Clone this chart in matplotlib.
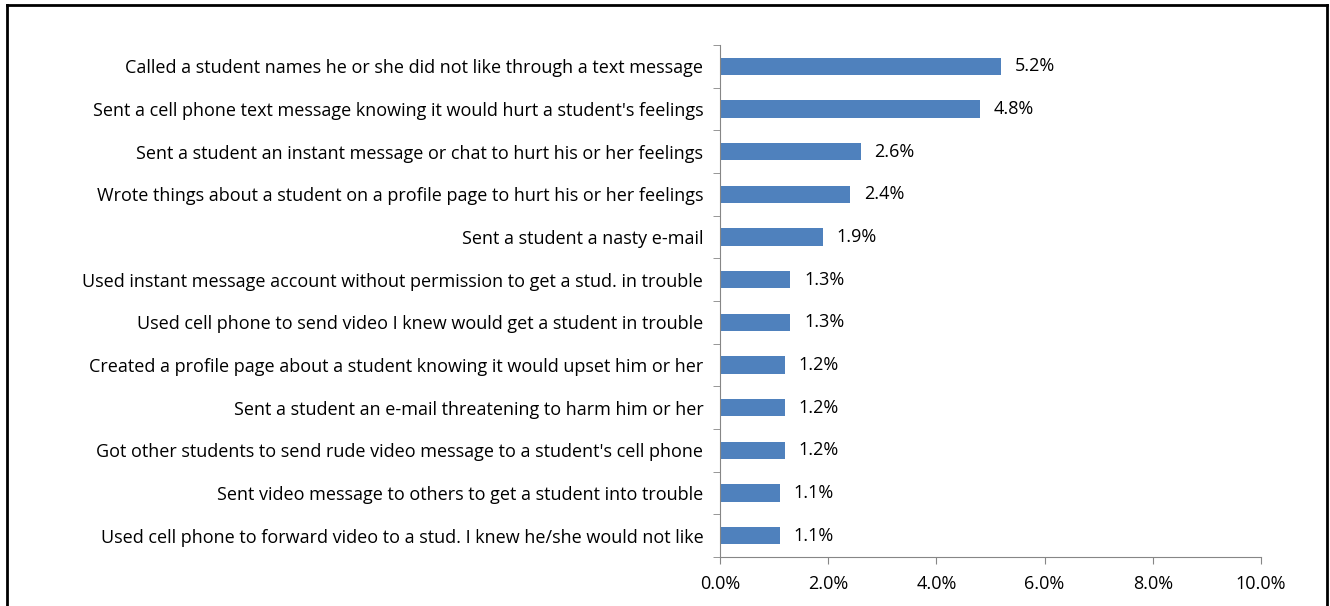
import matplotlib
matplotlib.use("Agg")
import matplotlib.pyplot as plt
from matplotlib.lines import Line2D
import numpy as np

categories = [
    "Called a student names he or she did not like through a text message",
    "Sent a cell phone text message knowing it would hurt a student's feelings",
    "Sent a student an instant message or chat to hurt his or her feelings",
    "Wrote things about a student on a profile page to hurt his or her feelings",
    "Sent a student a nasty e-mail",
    "Used instant message account without permission to get a stud. in trouble",
    "Used cell phone to send video I knew would get a student in trouble",
    "Created a profile page about a student knowing it would upset him or her",
    "Sent a student an e-mail threatening to harm him or her",
    "Got other students to send rude video message to a student's cell phone",
    "Sent video message to others to get a student into trouble",
    "Used cell phone to forward video to a stud. I knew he/she would not like",
]
values = [5.2, 4.8, 2.6, 2.4, 1.9, 1.3, 1.3, 1.2, 1.2, 1.2, 1.1, 1.1]
xticks = [0, 2, 4, 6, 8, 10]

plt.rcParams['font.family'] = ['Open Sans', 'DejaVu Sans']
FS = 13

fig = plt.figure(figsize=(13.3, 6.06), dpi=100)
ax = fig.add_axes([720/1330, 1-557/606, (1261-720)/1330, (557-45)/606])

n = len(categories)
y = np.arange(n)
ax.barh(y, values, height=0.4, color="#4F81BD")
ax.set_ylim(n - 0.5, -0.5)
ax.set_xlim(0, 10)

ax.set_yticks(y)
ax.set_yticklabels(categories, fontsize=FS)
ax.tick_params(axis='y', which='major', length=0, pad=12)
ax.set_yticks(np.arange(-0.5, n, 1), minor=True)
ax.tick_params(axis='y', which='minor', length=5, color='#868686', direction='out')

ax.set_xticks(xticks)
ax.set_xticklabels([f"{v:.1f}%" for v in xticks], fontsize=FS)
ax.tick_params(axis='x', length=5, color='#868686', direction='out', pad=8)

for s in ['top', 'right']:
    ax.spines[s].set_visible(False)
for s in ['left', 'bottom']:
    ax.spines[s].set_color('#868686')

for yi, v in zip(y, values):
    ax.annotate(f"{v:.1f}%", (v, yi), xytext=(10, 0), textcoords='offset points',
                va='center', ha='left', fontsize=FS)

# outer frame
fig.add_artist(Line2D([7/1330, 7/1330], [0, 1-5/606], transform=fig.transFigure, color='black', lw=2))
fig.add_artist(Line2D([1327/1330, 1327/1330], [0, 1-5/606], transform=fig.transFigure, color='black', lw=2))
fig.add_artist(Line2D([7/1330, 1327/1330], [1-5/606, 1-5/606], transform=fig.transFigure, color='black', lw=2))

fig.savefig("out.png", dpi=100)
